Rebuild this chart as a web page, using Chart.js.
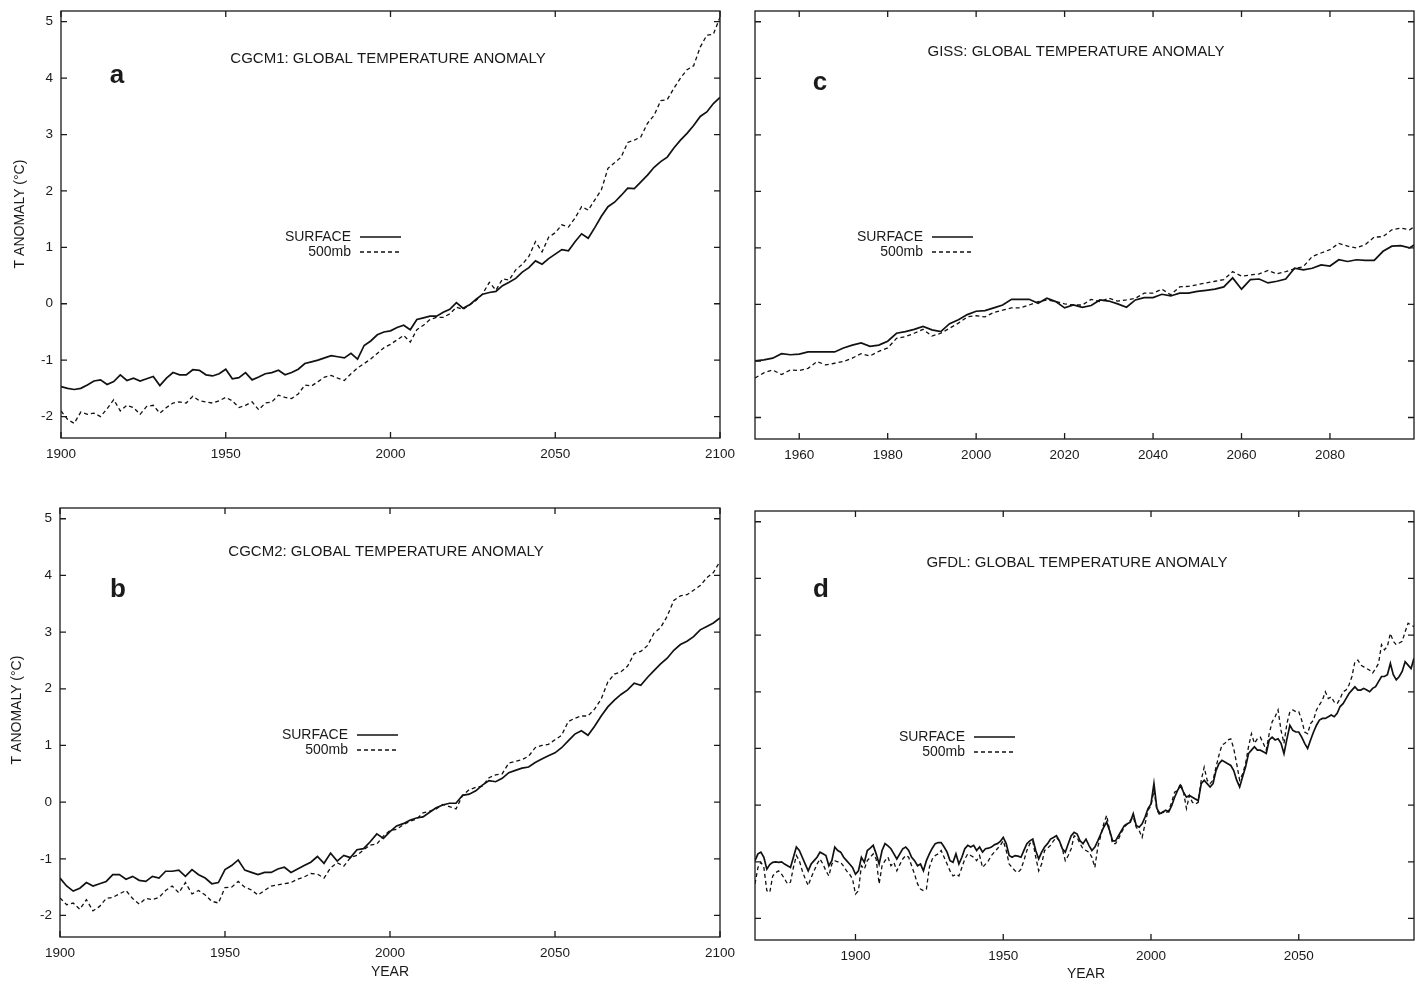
<!DOCTYPE html>
<html>
<head>
<meta charset="utf-8">
<script src="https://cdn.jsdelivr.net/npm/chart.js@4.4.0/dist/chart.umd.min.js"></script>
<style>
html, body { margin: 0; padding: 0; background: #fff; }
#wrap { position: relative; width: 1422px; height: 982px; }
canvas { position: absolute; }
</style>
</head>
<body>
<div id="wrap">
  <canvas id="pa" style="left:0px;top:0px;width:740px;height:490px" width="740" height="490"></canvas>
  <canvas id="pc" style="left:740px;top:0px;width:682px;height:490px" width="682" height="490"></canvas>
  <canvas id="pb" style="left:0px;top:490px;width:740px;height:492px" width="740" height="492"></canvas>
  <canvas id="pd" style="left:740px;top:490px;width:682px;height:492px" width="682" height="492"></canvas>
</div>
<script>
// years on the x axis
function yearRange(start, end, step) {
  var out = [];
  for (var y = start; y <= end; y += step) out.push(y);
  return out;
}
var yearsA = yearRange(1900, 2100, 2);
var yearsB = yearRange(1900, 2100, 2);
var yearsC = yearRange(1950, 2098, 2).concat([2099]);
var yearsD = yearRange(1866, 2089, 1);

var xTicksAB = [1900, 1950, 2000, 2050, 2100];
var xTicksC = [1960, 1980, 2000, 2020, 2040, 2060, 2080];
var xTicksD = [1900, 1950, 2000, 2050];
var yTicks = [-2, -1, 0, 1, 2, 3, 4, 5];

// a: CGCM1
var surfA = [
  -1.47,-1.50,-1.52,-1.50,-1.44,
  -1.37,-1.35,-1.43,-1.38,-1.26,
  -1.36,-1.32,-1.37,-1.33,-1.29,
  -1.45,-1.32,-1.22,-1.26,-1.26,
  -1.17,-1.18,-1.26,-1.28,-1.24,
  -1.16,-1.33,-1.31,-1.22,-1.35,
  -1.30,-1.24,-1.22,-1.18,-1.26,
  -1.22,-1.16,-1.06,-1.03,-1.00,
  -0.96,-0.92,-0.94,-0.96,-0.88,
  -0.98,-0.74,-0.66,-0.55,-0.50,
  -0.48,-0.42,-0.38,-0.46,-0.28,
  -0.25,-0.22,-0.22,-0.15,-0.10,
   0.02,-0.08,-0.02, 0.08, 0.17,
   0.20, 0.22, 0.32, 0.38, 0.45,
   0.56, 0.64, 0.76, 0.70, 0.80,
   0.88, 0.96, 0.94, 1.10, 1.24,
   1.16, 1.35, 1.55, 1.72, 1.80,
   1.92, 2.05, 2.04, 2.16, 2.28,
   2.42, 2.52, 2.60, 2.76, 2.90,
   3.02, 3.16, 3.32, 3.40, 3.55,
   3.66
];
var upA = [
  -1.90,-2.05,-2.12,-1.92,-1.96,
  -1.94,-2.00,-1.86,-1.70,-1.90,
  -1.80,-1.84,-1.96,-1.82,-1.80,
  -1.94,-1.84,-1.76,-1.74,-1.76,
  -1.64,-1.72,-1.74,-1.76,-1.72,
  -1.66,-1.72,-1.84,-1.80,-1.74,
  -1.88,-1.76,-1.74,-1.62,-1.66,
  -1.68,-1.60,-1.44,-1.46,-1.38,
  -1.30,-1.27,-1.32,-1.36,-1.24,
  -1.14,-1.06,-0.98,-0.88,-0.78,
  -0.72,-0.64,-0.56,-0.68,-0.46,
  -0.38,-0.28,-0.24,-0.24,-0.18,
  -0.06,-0.10,-0.02, 0.06, 0.18,
   0.38, 0.24, 0.44, 0.42, 0.60,
   0.70, 0.84, 1.10, 0.92, 1.18,
   1.26, 1.40, 1.36, 1.52, 1.72,
   1.66, 1.84, 2.02, 2.40, 2.50,
   2.60, 2.86, 2.90, 2.96, 3.20,
   3.34, 3.60, 3.62, 3.82, 4.00,
   4.15, 4.22, 4.55, 4.76, 4.78,
   5.08
];

// b: CGCM2
var surfB = [
  -1.34,-1.48,-1.57,-1.52,-1.42,
  -1.48,-1.44,-1.40,-1.28,-1.28,
  -1.36,-1.31,-1.38,-1.40,-1.31,
  -1.34,-1.22,-1.22,-1.20,-1.31,
  -1.19,-1.28,-1.34,-1.44,-1.42,
  -1.19,-1.12,-1.02,-1.20,-1.24,
  -1.28,-1.24,-1.24,-1.18,-1.15,
  -1.24,-1.18,-1.12,-1.06,-0.96,
  -1.08,-0.90,-1.04,-0.94,-0.98,
  -0.84,-0.82,-0.70,-0.56,-0.64,
  -0.52,-0.42,-0.38,-0.32,-0.28,
  -0.26,-0.18,-0.10,-0.05,-0.02,
  -0.02, 0.12, 0.14, 0.20, 0.30,
   0.38, 0.36, 0.42, 0.52, 0.56,
   0.60, 0.62, 0.70, 0.76, 0.82,
   0.87, 0.96, 1.08, 1.20, 1.26,
   1.18, 1.34, 1.52, 1.68, 1.80,
   1.90, 1.98, 2.10, 2.06, 2.20,
   2.32, 2.44, 2.54, 2.68, 2.78,
   2.84, 2.92, 3.04, 3.10, 3.16,
   3.25
];
var upB = [
  -1.69,-1.81,-1.78,-1.89,-1.72,
  -1.92,-1.84,-1.70,-1.68,-1.62,
  -1.56,-1.70,-1.80,-1.70,-1.72,
  -1.68,-1.56,-1.48,-1.60,-1.42,
  -1.62,-1.56,-1.64,-1.75,-1.78,
  -1.51,-1.50,-1.40,-1.50,-1.55,
  -1.64,-1.56,-1.48,-1.46,-1.44,
  -1.42,-1.36,-1.32,-1.26,-1.27,
  -1.34,-1.16,-1.07,-1.13,-0.98,
  -0.94,-0.84,-0.76,-0.74,-0.60,
  -0.50,-0.48,-0.40,-0.34,-0.30,
  -0.19,-0.16,-0.12,-0.04,-0.08,
  -0.12, 0.12, 0.22, 0.26, 0.28,
   0.43, 0.48, 0.50, 0.69, 0.72,
   0.75, 0.81, 0.96, 1.00, 1.02,
   1.10, 1.18, 1.42, 1.48, 1.52,
   1.52, 1.64, 1.82, 2.12, 2.26,
   2.30, 2.40, 2.62, 2.66, 2.76,
   2.98, 3.08, 3.28, 3.56, 3.64,
   3.66, 3.74, 3.82, 3.96, 4.05,
   4.25
];

// c: GISS
var surfC = [
  -1.00,-0.98,-0.95,-0.87,-0.89,
  -0.88,-0.84,-0.84,-0.84,-0.84,
  -0.77,-0.72,-0.68,-0.74,-0.72,
  -0.65,-0.51,-0.48,-0.44,-0.39,
  -0.45,-0.48,-0.34,-0.27,-0.18,
  -0.12,-0.11,-0.06,-0.01, 0.09,
   0.09, 0.09, 0.02, 0.11, 0.05,
  -0.06,-0.01,-0.05,-0.02, 0.08,
   0.06, 0.01,-0.05, 0.08, 0.12,
   0.12, 0.18, 0.15, 0.20, 0.20,
   0.23, 0.25, 0.27, 0.31, 0.47,
   0.27, 0.44, 0.45, 0.38, 0.41,
   0.45, 0.64, 0.61, 0.64, 0.70,
   0.68, 0.79, 0.76, 0.79, 0.78,
   0.78, 0.94, 1.03, 1.04, 1.00,
   1.05
];
var upC = [
  -1.30,-1.21,-1.16,-1.24,-1.16,
  -1.17,-1.13,-1.01,-1.07,-1.04,
  -1.01,-0.95,-0.87,-0.91,-0.83,
  -0.77,-0.60,-0.57,-0.51,-0.44,
  -0.56,-0.51,-0.42,-0.33,-0.22,
  -0.20,-0.22,-0.14,-0.10,-0.06,
  -0.06,-0.01, 0.05, 0.08, 0.05,
   0.01,-0.01,-0.01, 0.09, 0.05,
   0.11, 0.06, 0.08, 0.11, 0.20,
   0.20, 0.27, 0.17, 0.31, 0.32,
   0.35, 0.38, 0.41, 0.44, 0.58,
   0.50, 0.52, 0.54, 0.60, 0.54,
   0.58, 0.63, 0.67, 0.85, 0.91,
   0.97, 1.08, 1.03, 1.00, 1.06,
   1.19, 1.20, 1.32, 1.35, 1.32,
   1.37
];

// d: GFDL (annual, 1866-2089)
var surfD = [
  -0.98,-0.86,-0.83,-0.92,
  -1.13,-1.05,-1.01,-1.00,-1.01,-1.00,-1.04,-1.07,-1.10,-0.92,
  -0.74,-0.80,-0.92,-1.04,-1.16,-1.04,-0.98,-0.92,-0.83,-0.86,
  -0.89,-1.07,-0.98,-0.74,-0.80,-0.83,-0.92,-0.98,-1.04,-1.10,
  -1.22,-1.16,-0.92,-1.01,-0.80,-0.76,-0.71,-0.86,-1.04,-0.80,
  -0.68,-0.72,-0.77,-0.86,-0.95,-0.86,-0.77,-0.74,-0.80,-0.92,
  -0.98,-1.07,-1.04,-1.16,-0.98,-0.86,-0.76,-0.68,-0.66,-0.66,
  -0.74,-0.83,-0.98,-1.01,-0.86,-1.04,-0.92,-0.77,-0.71,-0.74,
  -0.71,-0.80,-0.74,-0.83,-0.77,-0.76,-0.74,-0.70,-0.68,-0.64,
  -0.57,-0.68,-0.89,-0.92,-0.89,-0.90,-0.92,-0.80,-0.68,-0.63,
  -0.60,-0.80,-0.95,-0.83,-0.74,-0.68,-0.60,-0.57,-0.54,-0.63,
  -0.77,-0.83,-0.68,-0.54,-0.48,-0.51,-0.63,-0.68,-0.60,-0.71,
  -0.80,-0.74,-0.63,-0.51,-0.39,-0.30,-0.45,-0.63,-0.63,-0.54,
  -0.45,-0.36,-0.33,-0.30,-0.15,-0.36,-0.39,-0.33,-0.21,-0.06,
   0.02, 0.38,-0.06,-0.15,-0.12,-0.09,-0.12,-0.01, 0.14, 0.26,
   0.35, 0.23, 0.14, 0.17, 0.14, 0.11, 0.08, 0.38, 0.44, 0.38,
   0.32, 0.38, 0.61, 0.73, 0.79, 0.76, 0.73, 0.70, 0.61, 0.44,
   0.32, 0.50, 0.67, 0.91, 0.97, 1.03, 0.97, 0.97, 0.94, 0.91,
   1.15, 1.20, 1.15, 1.17, 1.09, 0.91, 1.17, 1.41, 1.32, 1.29,
   1.29, 1.20, 1.09, 1.00, 1.15, 1.29, 1.41, 1.50, 1.53, 1.53,
   1.56, 1.59, 1.56, 1.62, 1.74, 1.79, 1.88, 1.97, 2.03, 2.09,
   2.03, 2.03, 2.06, 2.03, 2.00, 2.06, 2.09, 2.18, 2.27, 2.27,
   2.30, 2.50, 2.30, 2.21, 2.27, 2.36, 2.53, 2.47, 2.41, 2.59
];
var upD = [
  -1.39,-1.10,-1.01,-1.10,
  -1.51,-1.54,-1.25,-1.19,-1.16,-1.22,-1.30,-1.39,-1.36,-1.10,
  -0.89,-0.98,-1.16,-1.30,-1.42,-1.28,-1.16,-1.04,-0.95,-1.04,
  -1.16,-1.25,-1.04,-0.98,-1.00,-1.01,-1.08,-1.16,-1.22,-1.30,
  -1.57,-1.51,-1.07,-1.13,-0.98,-0.92,-0.86,-0.95,-1.39,-1.07,
  -0.98,-0.92,-1.07,-1.01,-1.16,-1.05,-0.95,-0.89,-0.92,-1.07,
  -1.22,-1.39,-1.48,-1.51,-1.48,-1.10,-0.95,-0.89,-0.86,-0.80,
  -0.92,-1.04,-1.16,-1.25,-1.22,-1.25,-1.10,-0.95,-0.86,-0.89,
  -0.92,-0.98,-0.89,-1.10,-1.04,-0.98,-0.89,-0.83,-0.77,-0.71,
  -0.63,-0.80,-1.04,-1.10,-1.16,-1.19,-1.13,-0.98,-0.80,-0.68,
  -0.63,-0.92,-1.16,-1.04,-0.80,-0.76,-0.71,-0.63,-0.57,-0.63,
  -0.77,-0.98,-0.89,-0.77,-0.54,-0.57,-0.68,-0.77,-0.80,-0.83,
  -0.92,-1.10,-0.74,-0.54,-0.33,-0.18,-0.45,-0.68,-0.68,-0.60,
  -0.48,-0.39,-0.33,-0.27,-0.21,-0.39,-0.45,-0.57,-0.33,-0.09,
  -0.01, 0.26,-0.09,-0.18,-0.12,-0.15,-0.09, 0.05, 0.23, 0.26,
   0.38, 0.23,-0.06, 0.17, 0.05, 0.02, 0.05, 0.44, 0.67, 0.44,
   0.38, 0.44, 0.67, 0.88, 1.06, 1.09, 1.15, 1.17, 1.00, 0.73,
   0.44, 0.55, 0.73, 1.03, 1.26, 1.09, 1.17, 1.20, 1.09, 0.97,
   1.26, 1.47, 1.56, 1.68, 1.32, 1.09, 1.44, 1.65, 1.68, 1.65,
   1.65, 1.50, 1.29, 1.26, 1.44, 1.50, 1.68, 1.77, 1.85, 2.00,
   1.88, 1.91, 1.82, 1.79, 1.88, 2.00, 2.03, 2.12, 2.27, 2.53,
   2.56, 2.47, 2.44, 2.41, 2.38, 2.33, 2.41, 2.50, 2.83, 2.74,
   2.80, 3.03, 2.89, 2.83, 2.86, 2.89, 3.06, 3.21, 3.18, 3.15
];

var FONT = "'Liberation Sans', Arial, Helvetica, sans-serif";
var INK = '#1a1a1a';
Chart.defaults.font.family = FONT;
Chart.defaults.color = INK;

// frame with inward ticks on all four sides, plus the panel's texts
var panelPlugin = {
  id: 'panel',
  afterDraw: function (chart, args, o) {
    var ctx = chart.ctx, a = chart.chartArea;
    var xs = chart.scales.x, ys = chart.scales.y;
    ctx.save();
    ctx.strokeStyle = INK;
    ctx.lineWidth = 1.3;
    ctx.strokeRect(a.left, a.top, a.right - a.left, a.bottom - a.top);
    ctx.beginPath();
    xs.ticks.forEach(function (t) {
      var px = xs.getPixelForValue(t.value);
      ctx.moveTo(px, a.bottom); ctx.lineTo(px, a.bottom - 6);
      ctx.moveTo(px, a.top); ctx.lineTo(px, a.top + 6);
    });
    ys.ticks.forEach(function (t) {
      var py = ys.getPixelForValue(t.value);
      ctx.moveTo(a.left, py); ctx.lineTo(a.left + 6, py);
      ctx.moveTo(a.right, py); ctx.lineTo(a.right - 6, py);
    });
    ctx.stroke();

    ctx.fillStyle = INK;
    ctx.font = '15px ' + FONT;
    ctx.textAlign = 'center';
    ctx.textBaseline = 'middle';
    ctx.fillText(o.title, o.titleX, o.titleY);

    ctx.font = 'bold 26px ' + FONT;
    ctx.textBaseline = 'alphabetic';
    ctx.fillText(o.letter, o.letterX, o.letterY);

    // legend: label, then a sample of the line
    ctx.font = '14px ' + FONT;
    ctx.textAlign = 'right';
    ctx.textBaseline = 'middle';
    chart.data.datasets.forEach(function (ds, i) {
      var ly = o.legendY + i * 15;
      ctx.fillText(ds.label, o.legendX, ly);
      ctx.save();
      ctx.strokeStyle = ds.borderColor;
      ctx.lineWidth = ds.borderWidth;
      ctx.setLineDash(ds.borderDash || []);
      ctx.beginPath();
      ctx.moveTo(o.legendX + 9, ly);
      ctx.lineTo(o.legendX + 50, ly);
      ctx.stroke();
      ctx.restore();
    });

    ctx.textAlign = 'center';
    if (o.yTitle) {
      ctx.save();
      ctx.translate(o.yTitleX, o.yTitleY);
      ctx.rotate(-Math.PI / 2);
      ctx.fillText(o.yTitle, 0, 0);
      ctx.restore();
    }
    if (o.xTitle) {
      ctx.fillText(o.xTitle, o.xTitleX, o.xTitleY);
    }
    ctx.restore();
  }
};

function points(years, vals) {
  return years.map(function (yr, i) { return { x: yr, y: vals[i] }; });
}

function makeChart(id, p) {
  return new Chart(document.getElementById(id), {
    type: 'line',
    data: {
      datasets: [
        { label: 'SURFACE', data: points(p.years, p.surf), borderColor: '#111',
          borderWidth: 1.7, pointRadius: 0, tension: 0, fill: false },
        { label: '500mb', data: points(p.years, p.up), borderColor: '#111',
          borderWidth: 1.3, borderDash: [4, 3], pointRadius: 0, tension: 0, fill: false }
      ]
    },
    options: {
      responsive: false,
      animation: false,
      devicePixelRatio: 1,
      layout: { padding: p.pad },
      plugins: { legend: { display: false }, tooltip: { enabled: false }, panel: p.text },
      scales: {
        x: {
          type: 'linear', min: p.xMin, max: p.xMax,
          afterBuildTicks: function (s) { s.ticks = p.xTicks.map(function (v) { return { value: v }; }); },
          afterFit: function (s) { s.height = p.xH; s.paddingLeft = 0; s.paddingRight = 0; },
          grid: { display: false, drawTicks: false },
          border: { display: false },
          ticks: { autoSkip: false, maxRotation: 0, padding: 8, color: INK, font: { size: 13.5 },
                   callback: function (v) { return String(v); } }
        },
        y: {
          min: -2.38, max: 5.19,
          afterBuildTicks: function (s) { s.ticks = yTicks.map(function (v) { return { value: v }; }); },
          afterFit: function (s) { s.width = p.yW; s.paddingTop = 0; s.paddingBottom = 0; },
          grid: { display: false, drawTicks: false },
          border: { display: false },
          ticks: { display: p.yLabels, padding: 8, color: INK, font: { size: 13.5 },
                   callback: function (v) { return String(v); } }
        }
      }
    },
    plugins: [panelPlugin]
  });
}

makeChart('pa', {
  years: yearsA, surf: surfA, up: upA, xMin: 1900, xMax: 2100, xTicks: xTicksAB,
  pad: { left: 0, top: 11, right: 20, bottom: 0 }, yW: 61, xH: 52, yLabels: true,
  text: { title: 'CGCM1: GLOBAL TEMPERATURE ANOMALY', titleX: 388, titleY: 59,
          letter: 'a', letterX: 117, letterY: 83, legendX: 351, legendY: 237,
          yTitle: 'T ANOMALY (°C)', yTitleX: 20, yTitleY: 214 }
});
makeChart('pb', {
  years: yearsB, surf: surfB, up: upB, xMin: 1900, xMax: 2100, xTicks: xTicksAB,
  pad: { left: 0, top: 18, right: 20, bottom: 0 }, yW: 60, xH: 45, yLabels: true,
  text: { title: 'CGCM2: GLOBAL TEMPERATURE ANOMALY', titleX: 386, titleY: 62,
          letter: 'b', letterX: 118, letterY: 107, legendX: 348, legendY: 245,
          yTitle: 'T ANOMALY (°C)', yTitleX: 17, yTitleY: 220,
          xTitle: 'YEAR', xTitleX: 390, xTitleY: 482 }
});
makeChart('pc', {
  years: yearsC, surf: surfC, up: upC, xMin: 1950, xMax: 2099, xTicks: xTicksC,
  pad: { left: 0, top: 11, right: 8, bottom: 0 }, yW: 15, xH: 51, yLabels: false,
  text: { title: 'GISS: GLOBAL TEMPERATURE ANOMALY', titleX: 336, titleY: 52,
          letter: 'c', letterX: 80, letterY: 90, legendX: 183, legendY: 237 }
});
makeChart('pd', {
  years: yearsD, surf: surfD, up: upD, xMin: 1866, xMax: 2089, xTicks: xTicksD,
  pad: { left: 0, top: 21, right: 8, bottom: 0 }, yW: 15, xH: 42, yLabels: false,
  text: { title: 'GFDL: GLOBAL TEMPERATURE ANOMALY', titleX: 337, titleY: 73,
          letter: 'd', letterX: 81, letterY: 107, legendX: 225, legendY: 247,
          xTitle: 'YEAR', xTitleX: 346, xTitleY: 484 }
});
</script>
</body>
</html>
